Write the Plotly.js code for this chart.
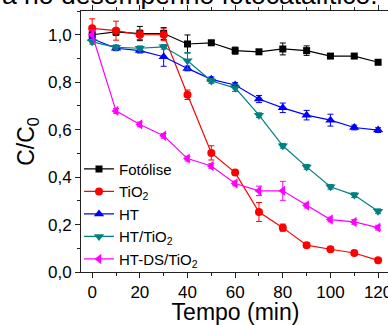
<!DOCTYPE html>
<html>
<head>
<meta charset="utf-8">
<script src="https://cdn.plot.ly/plotly-3.0.1.min.js"></script>
<style>
html,body{margin:0;padding:0;overflow:hidden;background:#fff;width:388px;height:325px;}
#chart{width:400px;height:325px;}
</style>
</head>
<body>
<div id="chart"></div>
<script>
const tempo = [0,10,20,30,40,50,60,70,80,90,100,110,120];

const fotolise    = [1.00,1.012,1.005,1.005,0.961,0.966,0.933,0.928,0.940,0.933,0.910,0.910,0.884];
const fotoliseErr = [0.01,0.015,0.03,0.025,0.038,0.01,0.015,0.01,0.025,0.02,0.01,0.01,0.01];

const tio2    = [1.027,1.017,1.000,1.000,0.747,0.502,0.419,0.253,0.187,0.113,0.096,0.080,0.049];
const tio2Err = [0.04,0.04,0.02,0.025,0.02,0.03,0.01,0.04,0.015,0.01,0.01,0.01,0.01];

const ht    = [0.983,0.943,0.933,0.907,0.858,0.812,0.788,0.729,0.692,0.661,0.640,0.609,0.598];
const htErr = [0.01,0.01,0.01,0.04,0.01,0.01,0.01,0.015,0.02,0.02,0.025,0.01,0.01];

const htTio2    = [0.970,0.947,0.943,0.949,0.890,0.805,0.776,0.661,0.532,0.443,0.359,0.324,0.256];
const htTio2Err = [0.01,0.01,0.01,0.01,0.035,0.01,0.015,0.01,0.01,0.01,0.01,0.01,0.01];

const htDs    = [1.000,0.679,0.622,0.574,0.478,0.447,0.373,0.342,0.342,0.280,0.221,0.211,0.187];
const htDsErr = [0.02,0.01,0.01,0.01,0.01,0.01,0.01,0.02,0.04,0.01,0.01,0.01,0.01];

const names = ['Fotólise','TiO<sub>2</sub>','HT','HT/TiO<sub>2</sub>','HT-DS/TiO<sub>2</sub>'];
const colors = ['#000000','#FF0000','#0000FF','#008080','#FF00FF'];
const symbols = ['square','circle','triangle-up','triangle-down','triangle-left'];
const sizes = [7,8,9,9,9];
const series = [fotolise,tio2,ht,htTio2,htDs];
const errs = [fotoliseErr,tio2Err,htErr,htTio2Err,htDsErr];

const traces = series.map((ys,i)=>({
  x: tempo, y: ys, name: names[i], type:'scatter', mode:'lines+markers',
  line:{color:colors[i], width:1.2},
  marker:{symbol:symbols[i], size:sizes[i], color:colors[i]},
  error_y:{type:'data', array:errs[i], visible:true, color:colors[i], thickness:1, width:3},
  cliponaxis:false
}));

const font = 'Liberation Sans, Arial, sans-serif';
const layout = {
  width:400, height:325,
  margin:{l:81, r:10, t:11, b:53.3},
  paper_bgcolor:'#fff', plot_bgcolor:'#fff',
  separators:',.',
  showlegend:true,
  font:{family:font, color:'#000'},
  xaxis:{
    range:[-4.7,125], dtick:20, tick0:0,
    ticks:'outside', ticklen:5, tickwidth:1, tickcolor:'#222',
    showline:true, linecolor:'#222', linewidth:1, mirror:'ticks',
    showgrid:false, zeroline:false,
    minor:{dtick:10, ticks:'outside', ticklen:3, tickcolor:'#222', showgrid:false},
    tickfont:{size:17, family:font, color:'#000'},
    title:{text:'Tempo (min)', font:{size:23, family:font, color:'#000'}, standoff:12},
    automargin:false
  },
  yaxis:{
    range:[0,1.1], dtick:0.2, tick0:0, tickformat:'.1f',
    ticks:'outside', ticklen:5, tickwidth:1, tickcolor:'#222',
    showline:true, linecolor:'#222', linewidth:1, mirror:'ticks',
    showgrid:false, zeroline:false,
    minor:{dtick:0.1, ticks:'outside', ticklen:3, tickcolor:'#222', showgrid:false},
    tickfont:{size:17, family:font, color:'#000'},
    title:{text:'C/C<sub>0</sub>', font:{size:23, family:font, color:'#000'}, standoff:6},
    automargin:false
  },
  legend:{
    x:-0.0065, y:0.457, xanchor:'left', yanchor:'top',
    bgcolor:'rgba(0,0,0,0)', borderwidth:0,
    font:{size:15, family:font, color:'#000'},
    tracegroupgap:0
  },
  annotations:[{
    text:'a no desempenho fotocatalítico.',
    xref:'paper', yref:'paper', x:-0.262, y:1.063, xanchor:'left', yanchor:'middle',
    showarrow:false, font:{size:26.5, family:font, color:'#000'}
  }]
};

Plotly.newPlot('chart', traces, layout, {displayModeBar:false, staticPlot:true});
</script>
</body>
</html>
